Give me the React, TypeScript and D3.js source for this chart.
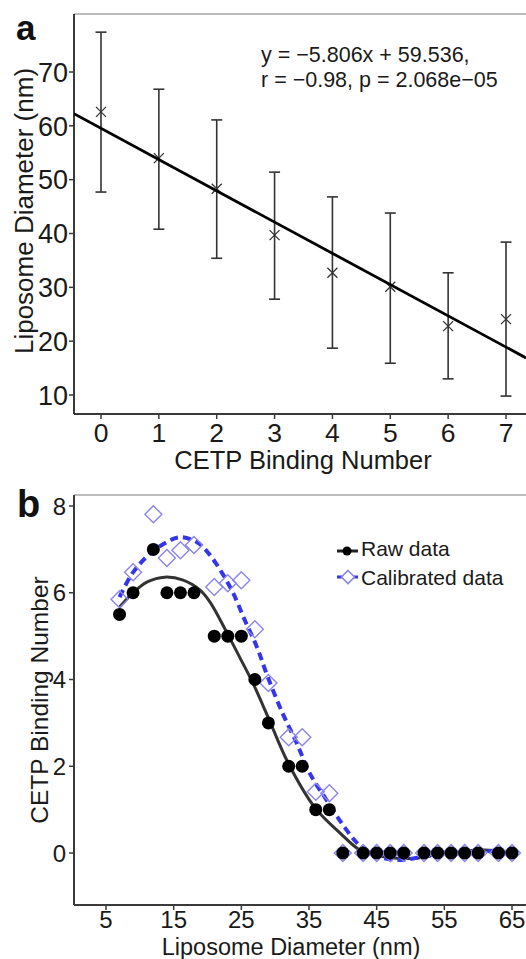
import React from 'react';
import * as d3 from 'd3';

// ---------- Panel a data ----------
const bindingNumbers = [0, 1, 2, 3, 4, 5, 6, 7];
const meanDiameter = [62.6, 54.0, 48.3, 39.7, 32.7, 30.1, 22.8, 24.1];
const upperDiameter = [77.4, 66.8, 61.1, 51.4, 46.8, 43.8, 32.7, 38.4];
const lowerDiameter = [47.7, 40.8, 35.4, 27.8, 18.7, 15.9, 13.0, 9.8];
const fitSlope = -5.806;
const fitIntercept = 59.536;
const aXTicks = [0, 1, 2, 3, 4, 5, 6, 7];
const aYTicks = [10, 20, 30, 40, 50, 60, 70];
const equationLines = ['y = \u22125.806x + 59.536,', 'r = \u22120.98, p = 2.068e\u221205'];

// ---------- Panel b data ----------
const diameters = [7, 9, 12, 14, 16, 18, 21, 23, 25, 27, 29, 32, 34, 36, 38, 40, 43, 45, 47, 49, 52, 54, 56, 58, 60, 63, 65];
const rawBinding = [5.5, 6, 7, 6, 6, 6, 5, 5, 5, 4, 3, 2, 2, 1, 1, 0, 0, 0, 0, 0, 0, 0, 0, 0, 0, 0, 0];
const calibratedBinding = [5.85, 6.47, 7.81, 6.8, 6.98, 7.1, 6.13, 6.22, 6.29, 5.16, 3.92, 2.67, 2.67, 1.41, 1.38, 0, 0, 0, 0, 0, 0, 0, 0, 0, 0, 0, 0];
const rawFitX = [7, 9, 11.1, 13.7, 16.4, 18.9, 20.4, 22.9, 24.8, 26.7, 28.9, 31.9, 35.9, 39.6, 42.5, 45, 48, 51, 54.3, 60.7, 65];
const rawFitY = [5.67, 6.0, 6.25, 6.36, 6.29, 6.06, 5.78, 5.07, 4.5, 3.92, 3.15, 2.08, 1.04, 0.46, 0.07, -0.06, -0.12, -0.12, -0.02, 0.07, 0.02];
const calFitX = [7, 9, 11.5, 14, 15.9, 18.4, 20.1, 22.1, 23.8, 25.5, 27.3, 28.9, 31.1, 33.2, 35.1, 37.6, 40, 42.3, 44.5, 48.4, 51.4, 55.6, 60.7, 65];
const calFitY = [5.9, 6.47, 6.9, 7.17, 7.28, 7.17, 6.92, 6.47, 5.99, 5.37, 4.75, 4.06, 3.22, 2.53, 1.84, 1.22, 0.65, 0.2, -0.05, -0.16, -0.1, 0.0, 0.05, 0.0];
const bXTicks = [5, 15, 25, 35, 45, 55, 65];
const bYTicks = [0, 2, 4, 6, 8];
const legendLabels = ['Raw data', 'Calibrated data'];

const FONT = "'Liberation Sans', Arial, Helvetica, sans-serif";
const AXIS = '#3a3a3a';
const TEXT = '#1a1a1a';
const BLUE = '#3535ee';
const DIAMOND = '#8a85ec';

function diamondPath(cx: number, cy: number, r: number) {
  return `M${cx},${cy - r}L${cx + r},${cy}L${cx},${cy + r}L${cx - r},${cy}Z`;
}

export default function App() {
  // Panel a geometry
  const aL = 74, aR = 526, aT = 14, aB = 414;
  const ax = d3.scaleLinear().domain([0, 7]).range([101, 506]);
  const ay = d3.scaleLinear().domain([10, 70]).range([395, 72]);
  const axMin = ax.invert(aL), axMax = ax.invert(aR);

  // Panel b geometry
  const bL = 74, bR = 526, bT = 495, bB = 905;
  const bx = d3.scaleLinear().domain([5, 65]).range([106, 512]);
  const by = d3.scaleLinear().domain([0, 8]).range([853, 506]);

  const curve = d3.curveCatmullRom.alpha(0.5);
  const rawLine = d3.line<number>().x((d, i) => bx(rawFitX[i])).y((d) => by(d)).curve(curve);
  const calLine = d3.line<number>().x((d, i) => bx(calFitX[i])).y((d) => by(d)).curve(curve);

  return (
    <svg width={526} height={959} style={{ position: 'absolute', left: 0, top: 0, background: '#fff' }} fontFamily={FONT}>
      <defs>
        <clipPath id="clipA"><rect x={aL} y={aT} width={aR - aL} height={aB - aT} /></clipPath>
        <clipPath id="clipB"><rect x={bL} y={bT} width={bR - bL} height={bB - bT} /></clipPath>
      </defs>
      <rect x={0} y={0} width={526} height={959} fill="#fff" />

      {/* ================= Panel a ================= */}
      <text x={16} y={40} fontSize={35} fontWeight="bold" fill="#111">a</text>
      <line x1={aL} x2={aR} y1={aT} y2={aT} stroke="#a8a8a8" strokeWidth={1.5} />
      <line x1={aL} x2={aL} y1={aT} y2={aB} stroke={AXIS} strokeWidth={2} />
      <line x1={aL} x2={aR} y1={aB} y2={aB} stroke={AXIS} strokeWidth={2} />
      {aYTicks.map((t) => (
        <g key={'ay' + t}>
          <line x1={aL - 5} x2={aL} y1={ay(t)} y2={ay(t)} stroke={AXIS} strokeWidth={1.5} />
          <text x={aL - 6} y={ay(t)} dy="0.36em" textAnchor="end" fontSize={27} fill={TEXT}>{t}</text>
        </g>
      ))}
      {aXTicks.map((t) => (
        <g key={'ax' + t}>
          <line x1={ax(t)} x2={ax(t)} y1={aB} y2={aB + 5} stroke={AXIS} strokeWidth={1.5} />
          <text x={ax(t)} y={442} textAnchor="middle" fontSize={26.5} fill={TEXT}>{t}</text>
        </g>
      ))}
      <text x={303} y={469} textAnchor="middle" fontSize={25.5} fill={TEXT}>CETP Binding Number</text>
      <text transform={`translate(33,211) rotate(-90)`} textAnchor="middle" fontSize={26} fill={TEXT}>Liposome Diameter (nm)</text>

      <g clipPath="url(#clipA)">
        {bindingNumbers.map((b, i) => (
          <g key={'eb' + b} stroke="#333" strokeWidth={1.6} fill="none">
            <line x1={ax(b)} x2={ax(b)} y1={ay(upperDiameter[i])} y2={ay(lowerDiameter[i])} />
            <line x1={ax(b) - 5.5} x2={ax(b) + 5.5} y1={ay(upperDiameter[i])} y2={ay(upperDiameter[i])} />
            <line x1={ax(b) - 5.5} x2={ax(b) + 5.5} y1={ay(lowerDiameter[i])} y2={ay(lowerDiameter[i])} />
            <path d={`M${ax(b) - 5},${ay(meanDiameter[i]) - 5}L${ax(b) + 5},${ay(meanDiameter[i]) + 5}M${ax(b) - 5},${ay(meanDiameter[i]) + 5}L${ax(b) + 5},${ay(meanDiameter[i]) - 5}`} strokeWidth={1.3} />
          </g>
        ))}
        <line x1={ax(axMin)} y1={ay(fitIntercept + fitSlope * axMin)} x2={ax(axMax)} y2={ay(fitIntercept + fitSlope * axMax)} stroke="#000" strokeWidth={2.8} />
      </g>
      {equationLines.map((l, i) => (
        <text key={'eq' + i} x={261} y={62 + i * 25} fontSize={21.5} fill={TEXT}>{l}</text>
      ))}

      {/* ================= Panel b ================= */}
      <text x={17} y={517} fontSize={38} fontWeight="bold" fill="#111">b</text>
      <line x1={bL} x2={bR} y1={bT} y2={bT} stroke="#a8a8a8" strokeWidth={1.5} />
      <line x1={bL} x2={bL} y1={bT} y2={bB} stroke={AXIS} strokeWidth={2} />
      <line x1={bL} x2={bR} y1={bB} y2={bB} stroke={AXIS} strokeWidth={2} />
      {bYTicks.map((t) => (
        <g key={'by' + t}>
          <line x1={bL - 5} x2={bL} y1={by(t)} y2={by(t)} stroke={AXIS} strokeWidth={1.5} />
          <text x={bL - 8} y={by(t)} dy="0.36em" textAnchor="end" fontSize={24} fill={TEXT}>{t}</text>
        </g>
      ))}
      {bXTicks.map((t) => (
        <g key={'bx' + t}>
          <line x1={bx(t)} x2={bx(t)} y1={bB} y2={bB + 5} stroke={AXIS} strokeWidth={1.5} />
          <text x={bx(t)} y={928} textAnchor="middle" fontSize={24} fill={TEXT}>{t}</text>
        </g>
      ))}
      <text x={291} y={955} textAnchor="middle" fontSize={23.5} fill={TEXT}>Liposome Diameter (nm)</text>
      <text transform={`translate(48,700) rotate(-90)`} textAnchor="middle" fontSize={24.5} fill={TEXT}>CETP Binding Number</text>

      <g clipPath="url(#clipB)">
        <path d={rawLine(rawFitY) || ''} fill="none" stroke="#333" strokeWidth={3} />
        <path d={calLine(calFitY) || ''} fill="none" stroke={BLUE} strokeWidth={4} strokeDasharray="8,5" />
        {diameters.map((d, i) => (
          <path key={'cd' + i} d={diamondPath(bx(d), by(calibratedBinding[i]), 8.5)} fill="none" stroke={DIAMOND} strokeWidth={1.4} />
        ))}
        {diameters.map((d, i) => (
          <circle key={'rd' + i} cx={bx(d)} cy={by(rawBinding[i])} r={6.5} fill="#000" />
        ))}
      </g>

      {/* legend */}
      <g>
        <line x1={337} x2={358} y1={551} y2={551} stroke="#222" strokeWidth={3} />
        <circle cx={347} cy={551} r={4.5} fill="#000" />
        <text x={361} y={556} fontSize={21} fill={TEXT}>{legendLabels[0]}</text>
        <line x1={337} x2={358} y1={577} y2={577} stroke={BLUE} strokeWidth={3} strokeDasharray="5,3" />
        <path d={diamondPath(348, 577, 6.5)} fill="#fff" stroke={DIAMOND} strokeWidth={1.6} />
        <text x={361} y={585} fontSize={21} fill={TEXT}>{legendLabels[1]}</text>
      </g>
    </svg>
  );
}
